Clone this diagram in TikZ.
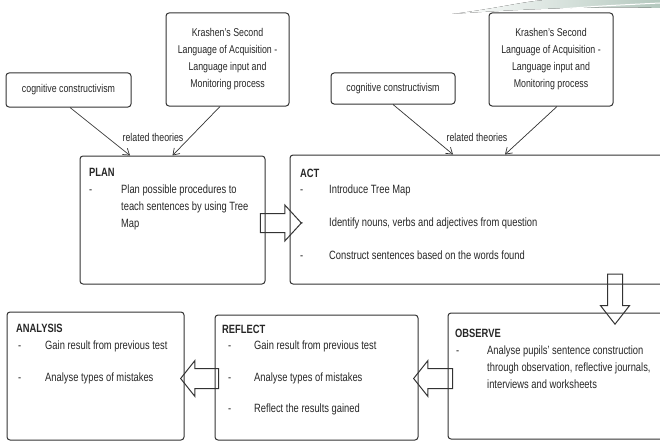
\documentclass[tikz,border=0pt]{standalone}
\usepackage{fontspec}
\setmainfont[FakeStretch=0.78]{Liberation Sans}
\usetikzlibrary{shapes.arrows,arrows.meta,positioning}
\definecolor{boxgray}{HTML}{333333}
\definecolor{textgray}{HTML}{262626}
\definecolor{swoosh}{HTML}{B4C8BE}

\begin{document}
\begin{tikzpicture}[x=1pt,y=-1pt,
  box/.style={draw=boxgray, line width=1pt, rounded corners=3pt, inner sep=0pt},
  txt/.style={anchor=base west, inner sep=0pt, text=textgray, align=left, font=\fontsize{12}{17}\selectfont},
  para/.style={txt, anchor=north west},
  head/.style={txt, font=\fontsize{12}{17}\selectfont\bfseries},
  theory/.style={text=textgray, align=center, inner sep=0pt, font=\fontsize{11.3}{17}\selectfont},
  blockarrow/.style={single arrow, draw=boxgray, line width=1pt, anchor=tip},
  link/.style={draw=boxgray, line width=0.7pt, -{Straight Barb[length=6pt,width=8pt]}}]
\useasboundingbox (0,0) rectangle (660,441);

% swoosh top right
\fill[left color=white, right color=swoosh] (452,14) .. controls (500,8) and (520,2) .. (545,0) -- (660,0) -- (660,8) .. controls (600,6) and (520,9) .. (452,14);
\draw[white, line width=1pt] (560,9) .. controls (600,6) .. (660,3);

% theory boxes
\node[box, minimum width=125pt, minimum height=34pt] (cog1) at (68.5,90) {};
\node[theory] at (cog1) {cognitive constructivism};
\node[box, minimum width=123pt, minimum height=93pt] (kra1) at (227.5,59.5) {};
\node[theory] at (kra1) {Krashen’s Second\\Language of Acquisition -\\Language input and\\Monitoring process};
\node[box, minimum width=124pt, minimum height=31pt] (cog2) at (393,88.5) {};
\node[theory] at (cog2) {cognitive constructivism};
\node[box, minimum width=124pt, minimum height=93pt] (kra2) at (551,59.5) {};
\node[theory] at (kra2) {Krashen’s Second\\Language of Acquisition -\\Language input and\\Monitoring process};

% cycle boxes
\node[box, minimum width=185pt, minimum height=128pt] (plan) at (172.5,220) {};
\node[box, minimum width=382pt, minimum height=129pt] (act) at (481,219.5) {};
\node[box, minimum width=224pt, minimum height=126pt] (observe) at (560,376) {};
\node[box, minimum width=203pt, minimum height=125pt] (reflect) at (316.5,377.5) {};
\node[box, minimum width=177pt, minimum height=128pt] (analysis) at (95.5,376) {};

% related theories
\node[theory] (rel1) at (153,137) {related theories};
\node[theory] (rel2) at (477,137) {related theories};
\draw[link] ([xshift=1.5pt]cog1.south) -- ([xshift=-42.5pt]plan.north);
\draw[link] ([xshift=-7.5pt]kra1.south) -- (plan.north);
\draw[link] (cog2.south) -- ([xshift=-28pt]act.north);
\draw[link] ([xshift=6pt]kra2.south) -- ([xshift=24pt]act.north);

% PLAN
\node[head] (planhead) at (89,176) {PLAN};
\node[txt] at (89,193) {-};
\node[para] (plan1) at (121,184.2) {Plan possible procedures to\\teach sentences by using Tree\\Map};

% ACT
\node[head] (acthead) at (300,177) {ACT};
\node[txt] at (300,193) {-};
\node[txt] at (300,226) {-};
\node[txt] at (300,259) {-};
\node[txt] (act1) at (329,193) {Introduce Tree Map};
\node[txt] (act2) at (329,226) {Identify nouns, verbs and adjectives from question};
\node[txt] (act3) at (329,259) {Construct sentences based on the words found};

% OBSERVE
\node[head] (obshead) at (455,337) {OBSERVE};
\node[txt] at (456,354) {-};
\node[para] (obs1) at (487,345.2) {Analyse pupils’ sentence construction\\through observation, reflective journals,\\interviews and worksheets};

% REFLECT
\node[head] (refhead) at (222,333) {REFLECT};
\node[txt] at (228,349) {-};
\node[txt] at (228,381) {-};
\node[txt] at (228,412) {-};
\node[txt] (ref1) at (254,349) {Gain result from previous test};
\node[txt] (ref2) at (254,381) {Analyse types of mistakes};
\node[txt] (ref3) at (254,412) {Reflect the results gained};

% ANALYSIS
\node[head] (anahead) at (16,332) {ANALYSIS};
\node[txt] at (18,349) {-};
\node[txt] at (18,381) {-};
\node[txt] (ana1) at (45,349) {Gain result from previous test};
\node[txt] (ana2) at (45,381) {Analyse types of mistakes};

% block arrows
\node[blockarrow, inner sep=9pt, single arrow head extend=8.5pt, minimum height=41pt, single arrow tip angle=95] (plantoact) at (302,223) {};
\node[blockarrow, inner sep=7pt, single arrow head extend=7pt, minimum height=50pt, single arrow tip angle=76, shape border rotate=270] (acttoobs) at (615,325) {};
\node[blockarrow, inner sep=9.5pt, single arrow head extend=8pt, minimum height=39pt, single arrow tip angle=103, shape border rotate=180] (obstoref) at (413,378.5) {};
\node[blockarrow, inner sep=9.5pt, single arrow head extend=8pt, minimum height=38pt, single arrow tip angle=103, shape border rotate=180] (reftoana) at (180,378.5) {};
\end{tikzpicture}
\end{document}
